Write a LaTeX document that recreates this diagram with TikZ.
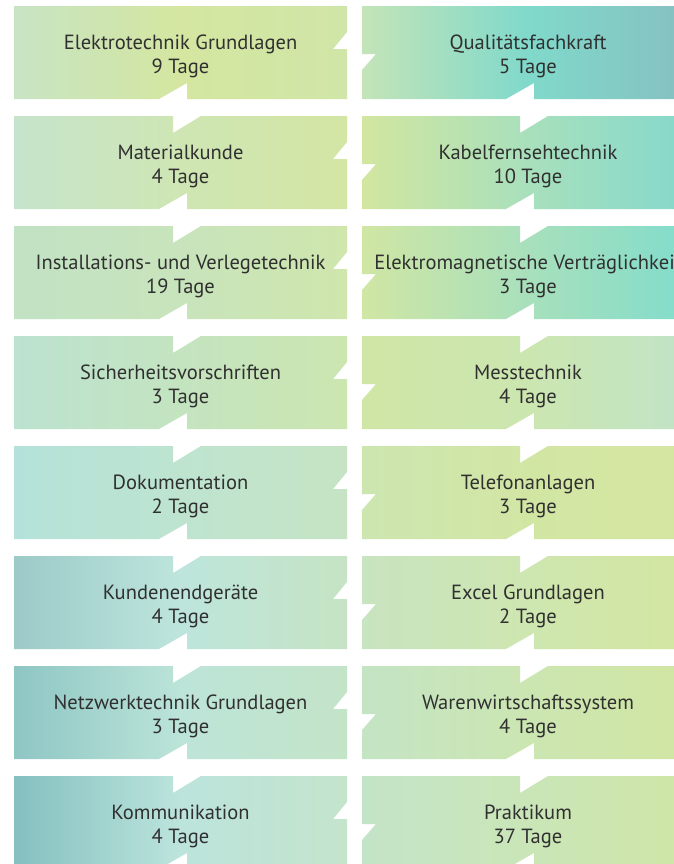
\documentclass[tikz,border=0pt]{standalone}
\usepackage{fontspec}
\setmainfont{PT Sans}
\definecolor{textgrey}{HTML}{303030}
% left column colours (left, middle, right)
\definecolor{La0}{HTML}{C8E4C4}\definecolor{Lb0}{HTML}{D4E6A0}\definecolor{Lc0}{HTML}{D0E6A8}
\definecolor{La1}{HTML}{C6E4CC}\definecolor{Lb1}{HTML}{CFE6B4}\definecolor{Lc1}{HTML}{D4E6A4}
\definecolor{La2}{HTML}{C2E2C4}\definecolor{Lb2}{HTML}{C8E4BC}\definecolor{Lc2}{HTML}{CFE6AC}
\definecolor{La3}{HTML}{BCE2D0}\definecolor{Lb3}{HTML}{C4E4C0}\definecolor{Lc3}{HTML}{CCE6B0}
\definecolor{La4}{HTML}{B4E2DA}\definecolor{Lb4}{HTML}{BEE4D0}\definecolor{Lc4}{HTML}{C6E4C4}
\definecolor{La5}{HTML}{9CCAC8}\definecolor{Lb5}{HTML}{BDE5DC}\definecolor{Lc5}{HTML}{C6E4C4}
\definecolor{La6}{HTML}{8EC6C4}\definecolor{Lb6}{HTML}{BCE4D8}\definecolor{Lc6}{HTML}{C4E4C8}
\definecolor{La7}{HTML}{84C0C0}\definecolor{Lb7}{HTML}{BCE4DC}\definecolor{Lc7}{HTML}{C4E4CC}
% right column colours
\definecolor{Ra0}{HTML}{C4E4B8}\definecolor{Rb0}{HTML}{80D9CB}\definecolor{Rc0}{HTML}{86BFC0}
\definecolor{Ra1}{HTML}{D2E6A0}\definecolor{Rb1}{HTML}{A8E0BC}\definecolor{Rc1}{HTML}{84D8CC}
\definecolor{Ra2}{HTML}{D0E6A4}\definecolor{Rb2}{HTML}{A8E0BC}\definecolor{Rc2}{HTML}{80DCCC}
\definecolor{Ra3}{HTML}{D0E6A6}\definecolor{Rb3}{HTML}{CCE6B0}\definecolor{Rc3}{HTML}{C0E4C8}
\definecolor{Ra4}{HTML}{CDE6B0}\definecolor{Rb4}{HTML}{D2E6A4}\definecolor{Rc4}{HTML}{D5E6A0}
\definecolor{Ra5}{HTML}{C8E4C0}\definecolor{Rb5}{HTML}{CEE6B0}\definecolor{Rc5}{HTML}{D4E6A0}
\definecolor{Ra6}{HTML}{C4E4C4}\definecolor{Rb6}{HTML}{CCE6B2}\definecolor{Rc6}{HTML}{D2E6A2}
\definecolor{Ra7}{HTML}{C4E4C8}\definecolor{Rb7}{HTML}{CAE6B8}\definecolor{Rc7}{HTML}{D0E6A6}
\begin{document}
\begin{tikzpicture}[x=0.75pt,y=-0.75pt,
  lbl/.style={text=textgrey, align=center, inner sep=0pt,
    font=\fontsize{15.4}{18}\selectfont}]
\useasboundingbox (0,0) rectangle (674,864);
\clip (0,0) rectangle (674,864);
\fill[white] (0,0) rectangle (674,864);
% left column boxes
\foreach \i in {0,...,7}{
  \pgfmathsetmacro\ty{6+110*\i}
  \pgfmathsetmacro\by{\ty+93}
  \ifnum\i>0
    \shade[left color=La\i, right color=Lc\i, middle color=Lb\i]
      (14,\ty) -- (173,\ty) -- (173,\ty+17) -- (201,\ty) -- (347,\ty)
      -- (347,\ty+26) -- (333,\ty+43) -- (347,\ty+43) -- (347,\by)
      -- (187,\by) -- (187,\by-16) -- (159,\by) -- (14,\by) -- cycle;
  \else
    \shade[left color=La\i, right color=Lc\i, middle color=Lb\i]
      (14,\ty) -- (347,\ty)
      -- (347,\ty+26) -- (333,\ty+43) -- (347,\ty+43) -- (347,\by)
      -- (187,\by) -- (187,\by-16) -- (159,\by) -- (14,\by) -- cycle;
  \fi
}
% right column boxes
\foreach \i in {0,...,7}{
  \pgfmathsetmacro\ty{6+110*\i}
  \pgfmathsetmacro\by{\ty+93}
  \ifnum\i>0
    \shade[left color=Ra\i, right color=Rc\i, middle color=Rb\i]
      (362,\ty) -- (520,\ty) -- (520,\ty+17) -- (548,\ty) -- (694,\ty)
      -- (694,\by) -- (534,\by) -- (534,\by-16) -- (506,\by) -- (362,\by)
      -- (362,\ty+64) -- (376,\ty+48) -- (362,\ty+48) -- cycle;
  \else
    \shade[left color=Ra\i, right color=Rc\i, middle color=Rb\i]
      (362,\ty) -- (694,\ty)
      -- (694,\by) -- (534,\by) -- (534,\by-16) -- (506,\by) -- (362,\by)
      -- (362,\ty+64) -- (376,\ty+48) -- (362,\ty+48) -- cycle;
  \fi
}
% labels
\foreach \i/\name/\days in {0/Elektrotechnik Grundlagen/9 Tage,
  1/Materialkunde/4 Tage, 2/Installations- und Verlegetechnik/19 Tage,
  3/Sicherheitsvorschriften/3 Tage, 4/Dokumentation/2 Tage,
  5/Kundenendgeräte/4 Tage, 6/Netzwerktechnik Grundlagen/3 Tage,
  7/Kommunikation/4 Tage}{
  \node[lbl] (l\i) at (180.5,{6+110*\i+50}) {\name\\\days};
}
\foreach \i/\name/\days in {0/Qualitätsfachkraft/5 Tage,
  1/Kabelfernsehtechnik/10 Tage, 2/Elektromagnetische Verträglichkeit/3 Tage,
  3/Messtechnik/4 Tage, 4/Telefonanlagen/3 Tage,
  5/Excel Grundlagen/2 Tage, 6/Warenwirtschaftssystem/4 Tage,
  7/Praktikum/37 Tage}{
  \node[lbl] (r\i) at (528,{6+110*\i+50}) {\name\\\days};
}
\end{tikzpicture}
\end{document}
